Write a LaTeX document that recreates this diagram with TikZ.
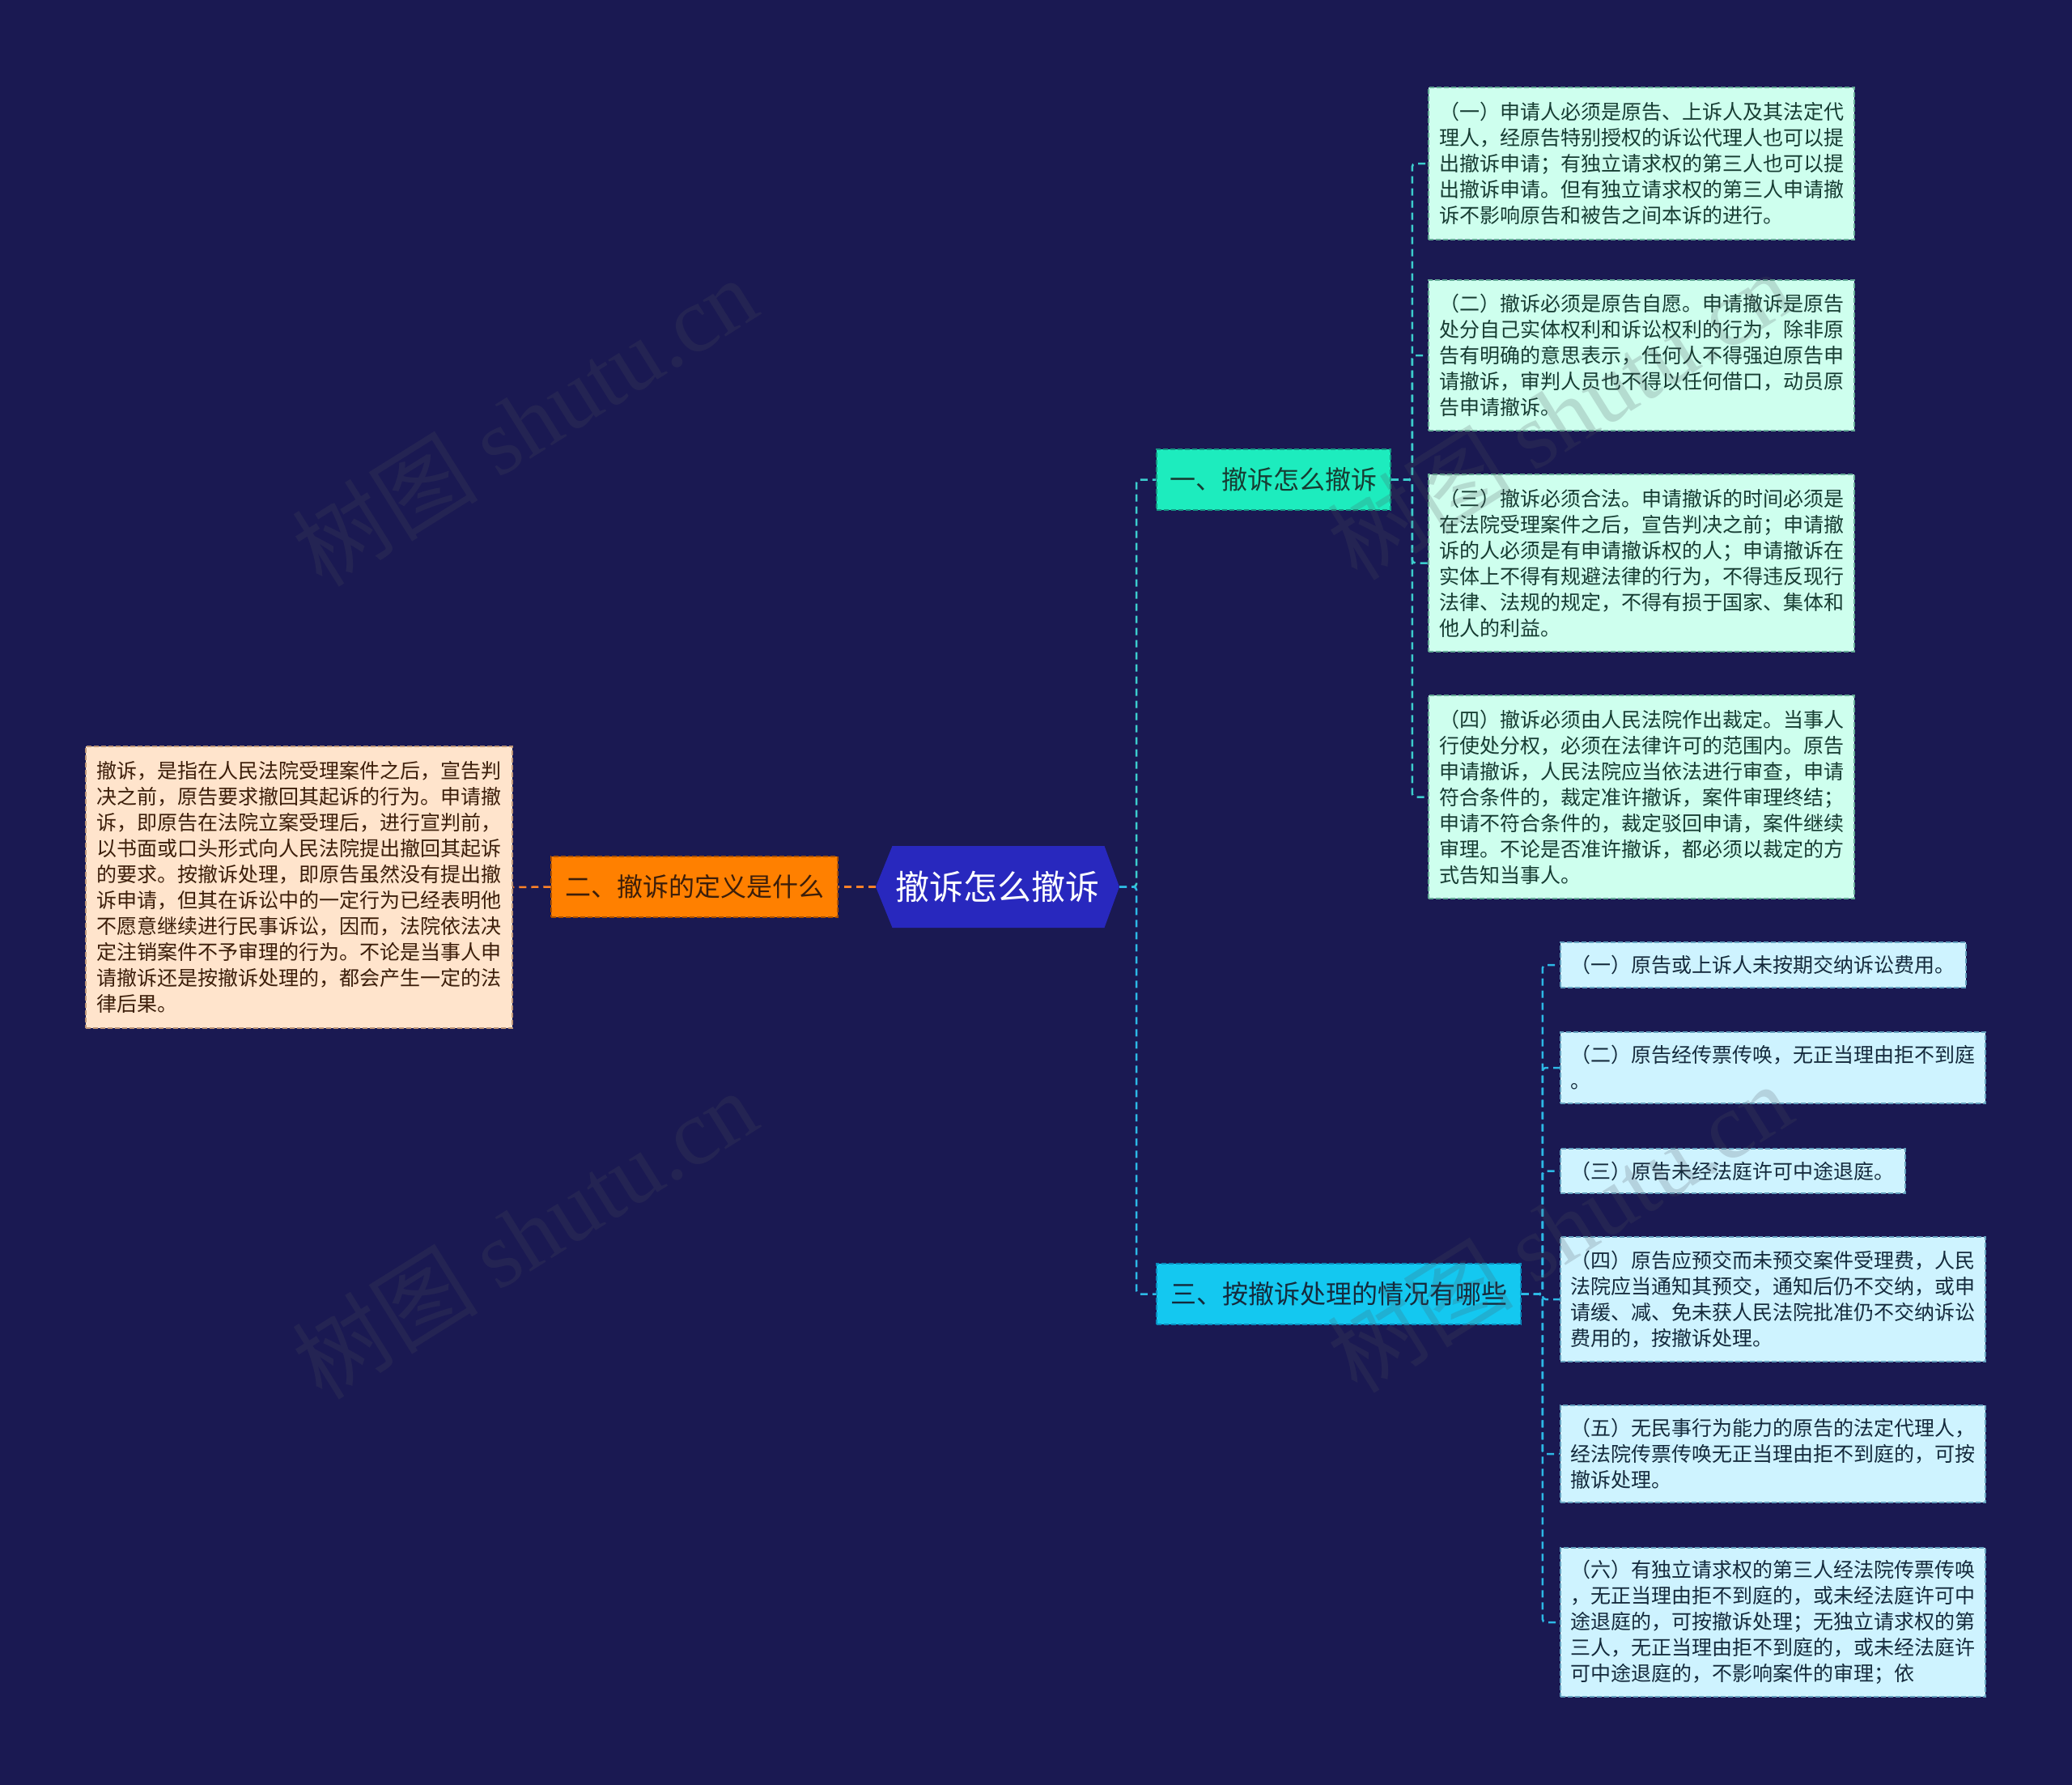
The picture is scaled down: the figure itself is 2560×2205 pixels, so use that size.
\documentclass[tikz,border=0pt]{standalone}
\usepackage{fontspec}
\setmainfont{Noto Sans CJK SC}
\newfontfamily\wmlatin{Liberation Serif}
\usetikzlibrary{calc}
\definecolor{bgc}{RGB}{26,25,82}
\definecolor{rootfill}{RGB}{40,40,190}
\definecolor{onefill}{RGB}{29,236,190}
\definecolor{onedraw}{RGB}{20,150,130}
\definecolor{threefill}{RGB}{20,200,240}
\definecolor{threedraw}{RGB}{10,140,190}
\definecolor{twofill}{RGB}{255,128,0}
\definecolor{twodraw}{RGB}{170,80,0}
\definecolor{afill}{RGB}{206,255,238}
\definecolor{adraw}{RGB}{100,170,150}
\definecolor{atext}{RGB}{22,60,50}
\definecolor{cfill}{RGB}{206,243,255}
\definecolor{cdraw}{RGB}{100,160,190}
\definecolor{ctext}{RGB}{20,42,60}
\definecolor{dfill}{RGB}{255,228,204}
\definecolor{ddraw}{RGB}{190,150,120}
\definecolor{dtext}{RGB}{60,30,10}
\definecolor{lineone}{RGB}{60,205,205}
\definecolor{linethree}{RGB}{45,185,230}
\definecolor{linetwo}{RGB}{255,130,40}
\definecolor{wmcol}{RGB}{80,80,90}
\tikzset{
  boxbase/.style={inner sep=0pt, align=left, line width=1.5pt, dash pattern=on 6pt off 3pt,
    font=\fontsize{25}{32}\selectfont},
  aleaf/.style={boxbase, draw=adraw, fill=afill, text=atext, minimum width=526pt},
  cleaf/.style={boxbase, draw=cdraw, fill=cfill, text=ctext},
  dleaf/.style={boxbase, draw=ddraw, fill=dfill, text=dtext},
  branchbase/.style={inner sep=0pt, line width=1.5pt, dash pattern=on 6pt off 3pt,
    minimum height=75pt, font=\fontsize{32}{38}\selectfont},
  conn/.style={line width=2.5pt, dash pattern=on 9pt off 6pt, rounded corners=4pt},
  wm/.style={text=wmcol, opacity=0.2, inner sep=0pt, rotate=32},
}
\begin{document}
\begin{tikzpicture}[x=1pt,y=-1pt]
\useasboundingbox (0,0) rectangle (2560,2205);
\fill[bgc] (0,0) rectangle (2560,2205);

% root hexagon
\coordinate (rc) at (1232.5,1095.5);
\fill[rootfill] ($(rc)+(-150.5,0)$) -- ($(rc)+(-130,-50.5)$) -- ($(rc)+(132,-50.5)$)
  -- ($(rc)+(150.5,0)$) -- ($(rc)+(132,50.5)$) -- ($(rc)+(-130,50.5)$) -- cycle;
\node[inner sep=0pt, minimum width=301pt, minimum height=101pt, text=white,
  font=\fontsize{42}{48}\selectfont] (root) at (rc) {撤诉怎么撤诉};

% branches
\node[branchbase, draw=onedraw, fill=onefill, text=atext, minimum width=289pt] (b1) at (1573.5,592.5) {一、撤诉怎么撤诉};
\node[branchbase, draw=threedraw, fill=threefill, text=ctext, minimum width=450pt] (b3) at (1654,1598.5) {三、按撤诉处理的情况有哪些};
\node[branchbase, draw=twodraw, fill=twofill, text=dtext, minimum width=354pt] (b2) at (858,1095.5) {二、撤诉的定义是什么};

% left leaf
\node[dleaf, minimum width=527pt, minimum height=348pt] (d1) at (369.5,1096) {撤诉，是指在人民法院受理案件之后，宣告判\\决之前，原告要求撤回其起诉的行为。申请撤\\诉，即原告在法院立案受理后，进行宣判前，\\以书面或口头形式向人民法院提出撤回其起诉\\的要求。按撤诉处理，即原告虽然没有提出撤\\诉申请，但其在诉讼中的一定行为已经表明他\\不愿意继续进行民事诉讼，因而，法院依法决\\定注销案件不予审理的行为。不论是当事人申\\请撤诉还是按撤诉处理的，都会产生一定的法\\律后果。};

% leaves of branch one
\node[aleaf, minimum height=188pt] (a1) at (2028,202) {（一）申请人必须是原告、上诉人及其法定代\\理人，经原告特别授权的诉讼代理人也可以提\\出撤诉申请；有独立请求权的第三人也可以提\\出撤诉申请。但有独立请求权的第三人申请撤\\诉不影响原告和被告之间本诉的进行。};
\node[aleaf, minimum height=186pt] (a2) at (2028,439) {（二）撤诉必须是原告自愿。申请撤诉是原告\\处分自己实体权利和诉讼权利的行为，除非原\\告有明确的意思表示，任何人不得强迫原告申\\请撤诉，审判人员也不得以任何借口，动员原\\告申请撤诉。};
\node[aleaf, minimum height=219pt] (a3) at (2028,695.5) {（三）撤诉必须合法。申请撤诉的时间必须是\\在法院受理案件之后，宣告判决之前；申请撤\\诉的人必须是有申请撤诉权的人；申请撤诉在\\实体上不得有规避法律的行为，不得违反现行\\法律、法规的规定，不得有损于国家、集体和\\他人的利益。};
\node[aleaf, minimum height=251pt] (a4) at (2028,984.5) {（四）撤诉必须由人民法院作出裁定。当事人\\行使处分权，必须在法律许可的范围内。原告\\申请撤诉，人民法院应当依法进行审查，申请\\符合条件的，裁定准许撤诉，案件审理终结；\\申请不符合条件的，裁定驳回申请，案件继续\\审理。不论是否准许撤诉，都必须以裁定的方\\式告知当事人。};

% leaves of branch three
\node[cleaf, anchor=west, minimum width=501pt, minimum height=56pt] (c1) at (1927,1192) {（一）原告或上诉人未按期交纳诉讼费用。};
\node[cleaf, anchor=west, minimum width=525pt, minimum height=88pt] (c2) at (1927,1319) {（二）原告经传票传唤，无正当理由拒不到庭\\。};
\node[cleaf, anchor=west, minimum width=426pt, minimum height=55pt] (c3) at (1927,1446.5) {（三）原告未经法庭许可中途退庭。};
\node[cleaf, anchor=west, minimum width=525pt, minimum height=154pt] (c4) at (1927,1605) {（四）原告应预交而未预交案件受理费，人民\\法院应当通知其预交，通知后仍不交纳，或申\\请缓、减、免未获人民法院批准仍不交纳诉讼\\费用的，按撤诉处理。};
\node[cleaf, anchor=west, minimum width=525pt, minimum height=120pt] (c5) at (1927,1796) {（五）无民事行为能力的原告的法定代理人，\\经法院传票传唤无正当理由拒不到庭的，可按\\撤诉处理。};
\node[cleaf, anchor=west, minimum width=525pt, minimum height=184pt] (c6) at (1927,2004) {（六）有独立请求权的第三人经法院传票传唤\\，无正当理由拒不到庭的，或未经法庭许可中\\途退庭的，可按撤诉处理；无独立请求权的第\\三人，无正当理由拒不到庭的，或未经法庭许\\可中途退庭的，不影响案件的审理；依};

% connectors
\draw[conn, lineone] (root.east) -- ++(21,0) |- (b1.west);
\draw[conn, linethree] (root.east) -- ++(21,0) |- (b3.west);
\draw[conn, linetwo] (root.west) -- (b2.east);
\draw[conn, linetwo] (b2.west) -- (d1.east);
\foreach \n in {a1,a2,a3,a4}{
  \draw[conn, lineone] (b1.east) -- ++(26,0) |- (\n.west);
}
\foreach \n in {c1,c2,c3,c4,c5,c6}{
  \draw[conn, linethree] (b3.east) -- ++(26,0) |- (\n.west);
}

% watermarks
\node[wm] (w1) at (648,520) {\fontsize{115}{120}\selectfont 树图 \wmlatin shutu.cn};
\node[wm] (w2) at (648,1524) {\fontsize{115}{120}\selectfont 树图 \wmlatin shutu.cn};
\node[wm] (w3) at (1927,512) {\fontsize{115}{120}\selectfont 树图 \wmlatin shutu.cn};
\node[wm] (w4) at (1927,1516) {\fontsize{115}{120}\selectfont 树图 \wmlatin shutu.cn};
\end{tikzpicture}
\end{document}
